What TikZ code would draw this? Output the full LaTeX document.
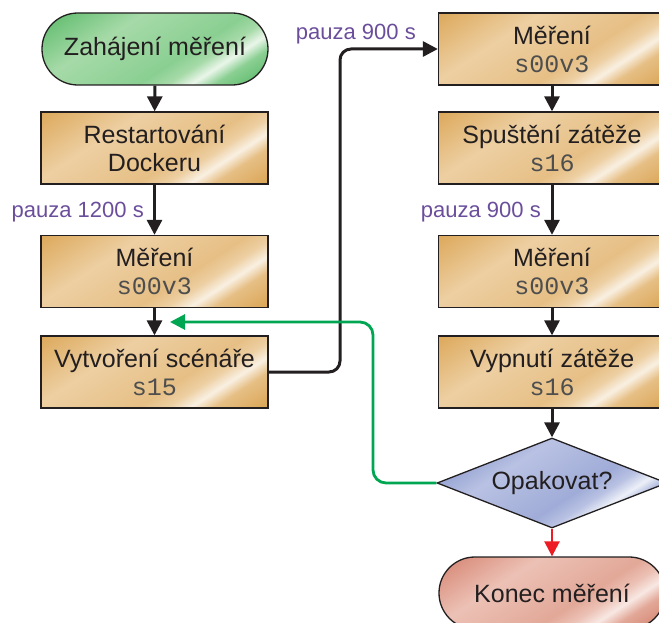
\documentclass[tikz,border=0pt]{standalone}
\usepackage{fontspec}
\setsansfont{Liberation Sans}
\setmonofont{Liberation Mono}
\usetikzlibrary{arrows.meta,shapes.geometric}

% palette
\definecolor{ink}{HTML}{231F20}
\definecolor{codegray}{HTML}{4E4E4E}
\definecolor{pauzacol}{HTML}{6B4E9B}
\definecolor{loopgreen}{HTML}{00A651}
\definecolor{exitred}{HTML}{ED1C24}
\definecolor{goldD}{HTML}{DCA85A}\definecolor{goldL}{HTML}{EDCFA2}
\definecolor{goldM}{HTML}{E6BF85}\definecolor{goldW}{HTML}{F9F0E2}
\definecolor{grnD}{HTML}{57B866}\definecolor{grnL}{HTML}{A6DAA8}
\definecolor{grnM}{HTML}{8ACF92}\definecolor{grnW}{HTML}{EAF6EA}
\definecolor{bluD}{HTML}{7586C3}\definecolor{bluL}{HTML}{B9C2E3}
\definecolor{bluM}{HTML}{A0ACD8}\definecolor{bluW}{HTML}{EDF0F8}
\definecolor{redD}{HTML}{D4806D}\definecolor{redL}{HTML}{ECC1B5}
\definecolor{redM}{HTML}{E2A898}\definecolor{redW}{HTML}{F8E8E3}

% glossy fill: dark corner, light lower-left, bright slanted streak, dark corner
\newcommand{\sheen}[5]{\pgfdeclarehorizontalshading{#1}{100bp}{color(0bp)=(#2);
  color(32bp)=(#2); color(43bp)=(#3); color(54bp)=(#4); color(57bp)=(#3);
  color(59.5bp)=(#5); color(62bp)=(#4); color(67bp)=(#2); color(100bp)=(#2)}}
\sheen{goldsheen}{goldD}{goldL}{goldM}{goldW}
\sheen{grnsheen}{grnD}{grnL}{grnM}{grnW}
\sheen{blusheen}{bluD}{bluL}{bluM}{bluW}
\sheen{redsheen}{redD}{redL}{redM}{redW}

\newcommand{\code}[1]{{\ttfamily\fontsize{25}{28}\selectfont\color{codegray}#1}}

\begin{document}
\begin{tikzpicture}[x=1pt,y=-1pt,
  every node/.style={font=\sffamily\fontsize{25}{28}\selectfont, text=ink},
  gloss/.style={path picture={\shade[shading=#1, shading angle=-57]
      ([shift={(-130pt,-130pt)}]path picture bounding box.center) rectangle
      ([shift={(130pt,130pt)}]path picture bounding box.center);}},
  stepbox/.style={rectangle, draw=ink, line width=1.3pt, minimum width=227pt,
    minimum height=72pt, inner sep=0pt, align=center, gloss=goldsheen},
  startbox/.style={rectangle, rounded corners=35.9pt, draw=ink, line width=1.3pt,
    minimum width=226pt, minimum height=72pt, inner sep=0pt, gloss=grnsheen},
  endbox/.style={rectangle, rounded corners=35.9pt, draw=ink, line width=1.3pt,
    minimum width=226pt, minimum height=72pt, inner sep=0pt, gloss=redsheen},
  decide/.style={diamond, aspect=2.556, draw=ink, line width=1.3pt, minimum width=230pt,
    minimum height=90pt, inner sep=0pt, gloss=blusheen},
  flow/.style={draw=ink, line width=3pt, -{Triangle[length=15pt,width=15pt]}},
  pauza/.style={font=\sffamily\fontsize{22}{26}\selectfont, text=pauzacol, anchor=east, inner sep=0pt},
]
\useasboundingbox (0,0) rectangle (659,623);

% left column
\node[startbox] (start) at (155,49) {Zahájení měření};
\node[stepbox] (restart) at (154.5,148) {Restartování\\Dockeru};
\node[stepbox] (mer1) at (154.5,271.5) {Měření\\\code{s00v3}};
\node[stepbox] (scen) at (154.5,372) {Vytvoření scénáře\\\code{s15}};

% right column
\node[stepbox] (mer2) at (552,49) {Měření\\\code{s00v3}};
\node[stepbox] (load) at (552,148) {Spuštění zátěže\\\code{s16}};
\node[stepbox] (mer3) at (552,271.5) {Měření\\\code{s00v3}};
\node[stepbox] (unload) at (552,372) {Vypnutí zátěže\\\code{s16}};
\node[decide] (again) at (552,483) {Opakovat?};
\node[endbox] (stop) at (552,593) {Konec měření};

% pause labels
\node[pauza] (p1) at (144,212) {pauza 1200 s};
\node[pauza] (p2) at (416,34) {pauza 900 s};
\node[pauza] (p3) at (541,212) {pauza 900 s};

% routing points
\coordinate (jog) at (340,0);
\coordinate (gjog) at (373,0);
\coordinate (ret) at (170,322);

% connectors
\draw[flow] (start) -- (restart);
\draw[flow] (restart) -- (mer1);
\draw[flow] (mer1) -- (scen);
\draw[flow, rounded corners=11pt] (scen.east) -- (scen.east -| jog) |- (mer2.west);
\draw[flow] (mer2) -- (load);
\draw[flow] (load) -- (mer3);
\draw[flow] (mer3) -- (unload);
\draw[flow] (unload) -- (again);
\draw[flow, draw=exitred, line width=2.5pt] (again.south) -- (stop);
\draw[flow, draw=loopgreen, line width=2.8pt, rounded corners=13pt]
  (again.west) -- (again.west -| gjog) |- (ret);
\end{tikzpicture}
\end{document}
